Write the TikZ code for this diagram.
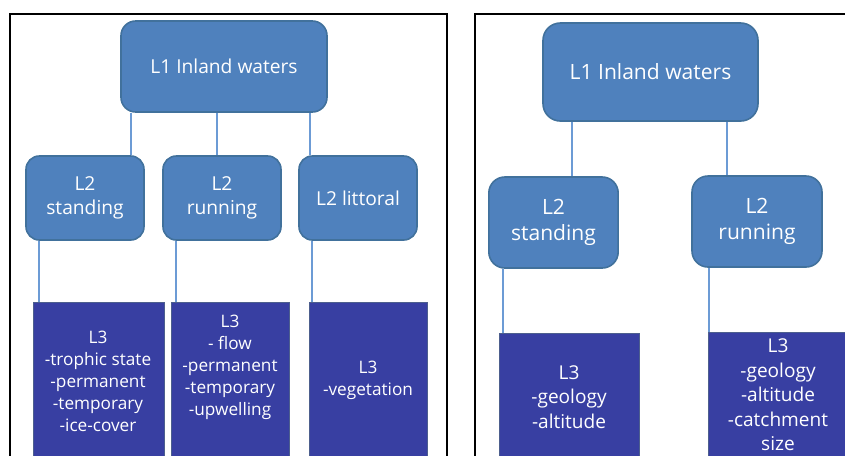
\documentclass[tikz,border=0pt]{standalone}
\usepackage{fontspec}
\setmainfont{Open Sans}
\definecolor{boxblue}{HTML}{4F81BD}
\definecolor{boxedge}{HTML}{41719C}
\definecolor{deepblue}{HTML}{383FA2}
\definecolor{deepedge}{HTML}{4D5F8E}
\definecolor{linkblue}{HTML}{6C9BD5}
\begin{document}
\begin{tikzpicture}[x=0.75pt,y=-0.75pt,
    levelbox/.style={draw=boxedge, line width=1.2pt, fill=boxblue, rounded corners=11pt,
        text=white, align=center, inner sep=0pt},
    lthree/.style={draw=deepedge, line width=0.8pt, fill=deepblue, anchor=north west, inner sep=0pt},
    lthreetext/.style={text=white, align=center, inner sep=0pt},
    link/.style={draw=linkblue, line width=0.9pt},
    frame/.style={draw=black, line width=1.5pt}]
    \useasboundingbox (0,0) rectangle (845,455);
    \clip (0,0) rectangle (845,455);

    % Left chart: frame
    \draw[frame] (10,14) rectangle (447,480);

    % Left chart: levels 1 and 2
    \node[levelbox, minimum width=154.5pt, minimum height=68.25pt,
        font=\fontsize{14.4}{18}\selectfont] (l1) at (224,66.5) {L1 Inland waters};
    \node[levelbox, minimum width=88.5pt, minimum height=63pt, rounded corners=10pt,
        font=\fontsize{14.4}{18}\selectfont] (ls2) at (85,198) {L2\\standing};
    \node[levelbox, minimum width=88.5pt, minimum height=63pt, rounded corners=10pt,
        font=\fontsize{14.4}{18}\selectfont] (lr2) at (222,198) {L2\\running};
    \node[levelbox, minimum width=88.5pt, minimum height=63pt, rounded corners=10pt,
        font=\fontsize{14.4}{18}\selectfont] (ll2) at (358,198) {L2 littoral};

    % Left chart: level 3
    \node[lthree, minimum width=98.25pt, minimum height=133.5pt] (ls3) at (33,302) {};
    \node[lthree, minimum width=88.5pt, minimum height=133.5pt] (lr3) at (171,302) {};
    \node[lthree, minimum width=88.5pt, minimum height=133.5pt] (ll3) at (309,302) {};
    \node[lthreetext, font=\fontsize{12.9}{16.5}\selectfont] (ls3txt) at (98,381)
        {L3\\-trophic state\\-permanent\\-temporary\\-ice-cover};
    \node[lthreetext, font=\fontsize{12.9}{16.5}\selectfont] (lr3txt) at (230,367)
        {L3\\- flow\\-permanent\\-temporary\\-upwelling};
    \node[lthreetext, font=\fontsize{12.9}{16.5}\selectfont] (ll3txt) at (368,380)
        {L3\\-vegetation};

    % Left chart: links
    \draw[link] (l1.south -| 131,0) -- (ls2.north -| 131,0);
    \draw[link] (l1.south -| 217,0) -- (lr2.north -| 217,0);
    \draw[link] (l1.south -| 310,0) -- (ll2.north -| 310,0);
    \draw[link] (ls2.south -| 39,0) -- (ls3.north -| 39,0);
    \draw[link] (lr2.south -| 176,0) -- (lr3.north -| 176,0);
    \draw[link] (ll2.south -| 312,0) -- (ll3.north -| 312,0);

    % Right chart: frame
    \draw[frame] (475,14) rectangle (880,480);

    % Right chart: levels 1 and 2
    \node[levelbox, minimum width=161.25pt, minimum height=73.5pt, rounded corners=13pt,
        font=\fontsize{15.8}{20}\selectfont] (r1) at (650.5,72) {L1 Inland waters};
    \node[levelbox, minimum width=97pt, minimum height=68.25pt, rounded corners=12pt,
        font=\fontsize{15.8}{20}\selectfont] (rs2) at (553.5,222.5) {L2\\standing};
    \node[levelbox, minimum width=97.5pt, minimum height=68.25pt, rounded corners=12pt,
        font=\fontsize{15.8}{20}\selectfont] (rr2) at (757,221.5) {L2\\running};

    % Right chart: level 3
    \node[lthree, minimum width=105pt, minimum height=110pt] (rs3) at (499,333) {};
    \node[lthree, minimum width=105pt, minimum height=110pt] (rr3) at (708,332) {};
    \node[lthreetext, font=\fontsize{14.3}{18.4}\selectfont] (rs3txt) at (569,397)
        {L3\\-geology\\-altitude};
    \node[lthreetext, font=\fontsize{14.3}{18.4}\selectfont] (rr3txt) at (778,395)
        {L3\\-geology\\-altitude\\-catchment\\size};

    % Right chart: links
    \draw[link] (r1.south -| 572,0) -- (rs2.north -| 572,0);
    \draw[link] (r1.south -| 727,0) -- (rr2.north -| 727,0);
    \draw[link] (rs2.south -| 503,0) -- (rs3.north -| 503,0);
    \draw[link] (rr2.south -| 709,0) -- (rr3.north -| 709,0);
\end{tikzpicture}
\end{document}
